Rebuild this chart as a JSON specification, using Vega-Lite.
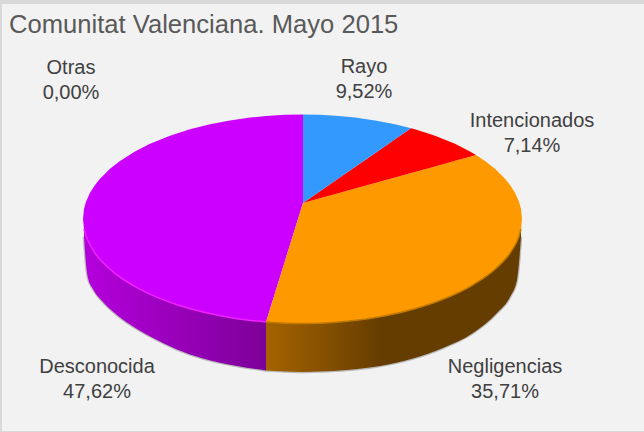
{
"$schema":"https://vega.github.io/schema/vega-lite/v6.json",
"width":644,"height":432,
"autosize":{"type":"fit","contains":"padding"},
"padding":{"top":4,"left":2,"right":0,"bottom":1},
"background":"#d9d9d9",
"view":{"fill":"#f2f2f2","stroke":null},
"title":{"text":"Comunitat Valenciana. Mayo 2015","anchor":"start","frame":"group","orient":"top","offset":-35,"dx":7,"font":"Liberation Sans","fontSize":25.6,"fontWeight":"normal","color":"#595959"},
"datasets":{
"labels":[
{"slice":"Otras","value":0.00,"label":"Otras\n0,00%","lx":71,"ly":68},
{"slice":"Rayo","value":9.52,"label":"Rayo\n9,52%","lx":364,"ly":67},
{"slice":"Intencionados","value":7.14,"label":"Intencionados\n7,14%","lx":532,"ly":121},
{"slice":"Negligencias","value":35.71,"label":"Negligencias\n35,71%","lx":505,"ly":367},
{"slice":"Desconocida","value":47.62,"label":"Desconocida\n47,62%","lx":97,"ly":367}
],
"sides":[
{"slice":"Desconocida","x":84,"y":229,"y2":237},{"slice":"Desconocida","x":86,"y":236.2,"y2":264},{"slice":"Desconocida","x":88,"y":240.5,"y2":278},{"slice":"Desconocida","x":93,"y":250.2,"y2":289},{"slice":"Desconocida","x":103,"y":262.6,"y2":302},{"slice":"Desconocida","x":117,"y":274.9,"y2":315},{"slice":"Desconocida","x":137,"y":287.6,"y2":329},{"slice":"Desconocida","x":155,"y":296.4,"y2":339},{"slice":"Desconocida","x":177,"y":304.7,"y2":349.5},{"slice":"Desconocida","x":203,"y":312.1,"y2":358.5},{"slice":"Desconocida","x":237,"y":318.7,"y2":366},{"slice":"Desconocida","x":266,"y":322,"y2":370.5},
{"slice":"Negligencias","x":266,"y":322,"y2":370.5},{"slice":"Negligencias","x":285,"y":323.2,"y2":371.5},{"slice":"Negligencias","x":303,"y":323.5,"y2":372},{"slice":"Negligencias","x":320,"y":323.2,"y2":371.5},{"slice":"Negligencias","x":347,"y":321.3,"y2":370},{"slice":"Negligencias","x":380,"y":316.8,"y2":366},{"slice":"Negligencias","x":413,"y":309.3,"y2":358.5},{"slice":"Negligencias","x":443,"y":299.3,"y2":348},{"slice":"Negligencias","x":473,"y":284.8,"y2":333},{"slice":"Negligencias","x":497,"y":267.5,"y2":313},{"slice":"Negligencias","x":510,"y":253.1,"y2":297},{"slice":"Negligencias","x":517,"y":241.2,"y2":280},{"slice":"Negligencias","x":519,"y":236.2,"y2":263},{"slice":"Negligencias","x":521,"y":229,"y2":237}
],
"tops":[
{"slice":"Desconocida","x":83,"y":219,"y2":219},{"slice":"Desconocida","x":84,"y":209,"y2":229},{"slice":"Desconocida","x":86,"y":201.8,"y2":236.2},{"slice":"Desconocida","x":90,"y":192.8,"y2":245.2},{"slice":"Desconocida","x":95,"y":184.9,"y2":253.1},{"slice":"Desconocida","x":100,"y":178.7,"y2":259.3},{"slice":"Desconocida","x":110,"y":168.8,"y2":269.2},{"slice":"Desconocida","x":120,"y":160.9,"y2":277.1},{"slice":"Desconocida","x":135,"y":151.5,"y2":286.5},{"slice":"Desconocida","x":150,"y":143.8,"y2":294.2},{"slice":"Desconocida","x":170,"y":135.7,"y2":302.3},{"slice":"Desconocida","x":190,"y":129.3,"y2":308.7},{"slice":"Desconocida","x":210,"y":124.2,"y2":313.8},{"slice":"Desconocida","x":230,"y":120.4,"y2":317.6},{"slice":"Desconocida","x":250,"y":117.5,"y2":320.5},{"slice":"Desconocida","x":266,"y":116,"y2":322},{"slice":"Desconocida","x":285,"y":114.8,"y2":260.9},{"slice":"Desconocida","x":303,"y":114.5,"y2":203},
{"slice":"Negligencias","x":266,"y":322,"y2":322},{"slice":"Negligencias","x":285,"y":260.9,"y2":323.2},{"slice":"Negligencias","x":303,"y":203,"y2":323.5},{"slice":"Negligencias","x":320,"y":198.3,"y2":323.2},{"slice":"Negligencias","x":339,"y":193,"y2":322},{"slice":"Negligencias","x":355,"y":188.6,"y2":320.5},{"slice":"Negligencias","x":375,"y":183,"y2":317.6},{"slice":"Negligencias","x":395,"y":177.5,"y2":313.8},{"slice":"Negligencias","x":415,"y":171.9,"y2":308.7},{"slice":"Negligencias","x":435,"y":166.4,"y2":302.3},{"slice":"Negligencias","x":455,"y":160.8,"y2":294.2},{"slice":"Negligencias","x":470,"y":156.7,"y2":286.5},{"slice":"Negligencias","x":476,"y":155,"y2":283},{"slice":"Negligencias","x":485,"y":160.9,"y2":277.1},{"slice":"Negligencias","x":495,"y":168.8,"y2":269.2},{"slice":"Negligencias","x":505,"y":178.7,"y2":259.3},{"slice":"Negligencias","x":510,"y":184.9,"y2":253.1},{"slice":"Negligencias","x":515,"y":192.8,"y2":245.2},{"slice":"Negligencias","x":519,"y":201.8,"y2":236.2},{"slice":"Negligencias","x":521,"y":209,"y2":229},{"slice":"Negligencias","x":522,"y":219,"y2":219},
{"slice":"Intencionados","x":303,"y":203,"y2":203},{"slice":"Intencionados","x":320,"y":191.2,"y2":198.3},{"slice":"Intencionados","x":339,"y":178.1,"y2":193},{"slice":"Intencionados","x":355,"y":167,"y2":188.6},{"slice":"Intencionados","x":375,"y":153.2,"y2":183},{"slice":"Intencionados","x":395,"y":139.3,"y2":177.5},{"slice":"Intencionados","x":411,"y":128.2,"y2":173},{"slice":"Intencionados","x":415,"y":129.3,"y2":171.9},{"slice":"Intencionados","x":435,"y":135.7,"y2":166.4},{"slice":"Intencionados","x":455,"y":143.8,"y2":160.8},{"slice":"Intencionados","x":470,"y":151.5,"y2":156.7},{"slice":"Intencionados","x":476,"y":155,"y2":155},
{"slice":"Rayo","x":303,"y":114.5,"y2":203},{"slice":"Rayo","x":320,"y":114.8,"y2":191.2},{"slice":"Rayo","x":339,"y":116,"y2":178.1},{"slice":"Rayo","x":355,"y":117.5,"y2":167},{"slice":"Rayo","x":375,"y":120.4,"y2":153.2},{"slice":"Rayo","x":395,"y":124.2,"y2":139.3},{"slice":"Rayo","x":411,"y":128.2,"y2":128.2}
]
},
"encoding":{
"x":{"field":"x","type":"quantitative","axis":null,"scale":{"domain":[2,644],"nice":false,"zero":false}},
"y":{"field":"y","type":"quantitative","axis":null,"scale":{"domain":[431,4],"nice":false,"zero":false}}
},
"layer":[
{"data":{"name":"sides"},"mark":{"type":"line","stroke":"#8c8c8c","strokeWidth":2.5,"opacity":0.55,"interpolate":"monotone"},
 "encoding":{"y":{"field":"y2","type":"quantitative","axis":null},"detail":{"field":"slice"}}},
{"data":{"name":"sides"},"transform":[{"filter":"datum.slice==='Desconocida'"}],
 "mark":{"type":"area","interpolate":"monotone","color":{"gradient":"linear","x1":0,"y1":0,"x2":1,"y2":0,"stops":[{"offset":0,"color":"#b400dc"},{"offset":1,"color":"#7d0098"}]}},
 "encoding":{"y2":{"field":"y2"}}},
{"data":{"name":"sides"},"transform":[{"filter":"datum.slice==='Negligencias'"}],
 "mark":{"type":"area","interpolate":"monotone","color":{"gradient":"linear","x1":0,"y1":0,"x2":1,"y2":0,"stops":[{"offset":0,"color":"#a56300"},{"offset":0.45,"color":"#663d00"},{"offset":1,"color":"#663d00"}]}},
 "encoding":{"y2":{"field":"y2"}}},
{"data":{"name":"tops"},"mark":{"type":"area"},
 "encoding":{"y2":{"field":"y2"},
 "color":{"field":"slice","type":"nominal","legend":null,"scale":{"domain":["Rayo","Intencionados","Negligencias","Desconocida"],"range":["#3399ff","#ff0000","#ff9900","#cc00ff"]}}}},
{"data":{"name":"sides"},"mark":{"type":"line","strokeWidth":1.5,"interpolate":"monotone"},
 "encoding":{"color":{"field":"slice","type":"nominal","legend":null,"scale":{"domain":["Desconocida","Negligencias"],"range":["#f020ff","#c07a00"]}}}},
{"data":{"name":"labels"},"mark":{"type":"text","align":"center","baseline":"middle","font":"Liberation Sans","fontSize":20,"lineHeight":24.5,"lineBreak":"\n","color":"#404040"},
 "encoding":{"x":{"field":"lx","type":"quantitative","axis":null},"y":{"field":"ly","type":"quantitative","axis":null},"text":{"field":"label"}}}
],
"resolve":{"scale":{"color":"independent"}},
"config":{"style":{"cell":{"stroke":null}}}
}
